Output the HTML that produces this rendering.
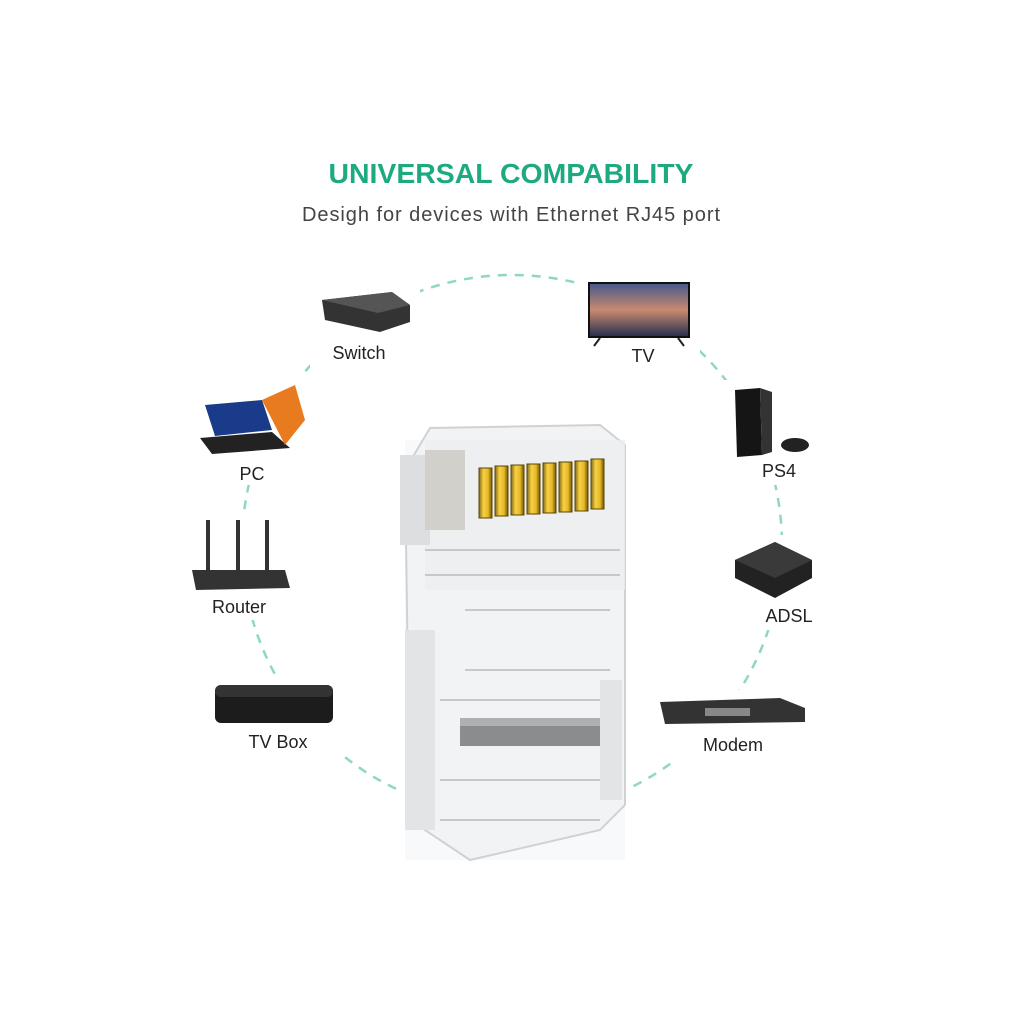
<!DOCTYPE html>
<html><head><meta charset="utf-8"><style>
html,body{margin:0;padding:0;background:#fff;}
svg{display:block}
text{font-family:"Liberation Sans",sans-serif}
</style></head><body>
<svg width="1024" height="1024" viewBox="0 0 1024 1024">
<defs>
<linearGradient id="gold" x1="0" x2="1"><stop offset="0" stop-color="#8a6a10"/><stop offset="0.35" stop-color="#f4d24a"/><stop offset="0.7" stop-color="#e8b820"/><stop offset="1" stop-color="#6b5008"/></linearGradient>
<linearGradient id="tvs" x1="0" y1="0" x2="0" y2="1"><stop offset="0" stop-color="#4a5a8a"/><stop offset="0.5" stop-color="#c88a70"/><stop offset="1" stop-color="#2a3050"/></linearGradient>
</defs>
<text x="511" y="183" text-anchor="middle" font-size="28" font-weight="bold" fill="#1eaa80" textLength="365" lengthAdjust="spacingAndGlyphs">UNIVERSAL COMPABILITY</text>
<text x="511" y="221" text-anchor="middle" font-size="20" fill="#444" textLength="418" lengthAdjust="spacing">Desigh for devices with Ethernet RJ45 port</text>
<circle cx="512" cy="545" r="270" fill="none" stroke="#8fd8bf" stroke-width="2.5" stroke-dasharray="9 8"/>
<rect x="310" y="280" width="110" height="90" fill="#fff"/>
<rect x="580" y="275" width="120" height="95" fill="#fff"/>
<rect x="190" y="375" width="125" height="110" fill="#fff"/>
<rect x="720" y="380" width="100" height="105" fill="#fff"/>
<rect x="180" y="515" width="110" height="105" fill="#fff"/>
<rect x="725" y="535" width="100" height="95" fill="#fff"/>
<rect x="205" y="680" width="140" height="75" fill="#fff"/>
<rect x="650" y="690" width="160" height="70" fill="#fff"/>
<rect x="400" y="780" width="230" height="90" fill="#fff"/>
<path d="M322 300 L392 292 L410 305 L410 322 L380 332 L325 320 Z" fill="#333"/>
<path d="M322 300 L392 292 L410 305 L378 313 Z" fill="#555"/>
<text x="359" y="359" text-anchor="middle" font-size="18" fill="#222">Switch</text>
<rect x="588" y="282" width="102" height="56" fill="#111"/>
<rect x="590" y="284" width="98" height="52" fill="url(#tvs)"/>
<path d="M594 346 L600 338 M684 346 L678 338" stroke="#222" stroke-width="2"/>
<text x="643" y="362" text-anchor="middle" font-size="18" fill="#222">TV</text>
<path d="M205 405 L262 400 L272 430 L215 436 Z" fill="#1a3a8a"/>
<path d="M200 438 L272 432 L290 448 L212 454 Z" fill="#222"/>
<path d="M262 400 L295 385 L305 420 L285 445 Z" fill="#e87a20"/>
<text x="252" y="480" text-anchor="middle" font-size="18" fill="#222">PC</text>
<path d="M735 390 L760 388 L762 455 L737 457 Z" fill="#151515"/>
<path d="M760 388 L772 392 L772 452 L762 455 Z" fill="#333"/>
<ellipse cx="795" cy="445" rx="14" ry="7" fill="#222"/>
<text x="779" y="477" text-anchor="middle" font-size="18" fill="#222">PS4</text>
<rect x="206" y="520" width="4" height="50" fill="#333"/>
<rect x="236" y="520" width="4" height="50" fill="#333"/>
<rect x="265" y="520" width="4" height="50" fill="#333"/>
<path d="M192 570 L285 570 L290 588 L196 590 Z" fill="#333"/>
<text x="239" y="613" text-anchor="middle" font-size="18" fill="#222">Router</text>
<path d="M735 560 L775 542 L812 560 L812 578 L775 598 L735 578 Z" fill="#222"/>
<path d="M735 560 L775 542 L812 560 L775 578 Z" fill="#3a3a3a"/>
<text x="789" y="622" text-anchor="middle" font-size="18" fill="#222">ADSL</text>
<rect x="215" y="685" width="118" height="38" rx="6" fill="#1c1c1c"/>
<rect x="215" y="685" width="118" height="12" rx="6" fill="#333"/>
<text x="278" y="748" text-anchor="middle" font-size="18" fill="#222">TV Box</text>
<path d="M660 702 L780 698 L805 708 L805 722 L665 724 Z" fill="#333"/>
<rect x="705" y="708" width="45" height="8" fill="#888"/>
<text x="733" y="751" text-anchor="middle" font-size="18" fill="#222">Modem</text>
<g>
<rect x="405" y="440" width="220" height="420" fill="#f8f9fa"/>
<path d="M430 428 L600 425 L625 445 L625 805 L600 830 L470 860 L410 820 L405 470 Z" fill="#f2f3f4" stroke="#cfd2d5" stroke-width="2"/>
<rect x="425" y="440" width="200" height="150" fill="#eceeef" opacity="0.8"/>
<rect x="400" y="455" width="30" height="90" fill="#dcdedf"/>
<rect x="425" y="450" width="40" height="80" fill="#d2d0ca"/>
<g stroke="#c6c9cc" stroke-width="2">
<line x1="425" y1="550" x2="620" y2="550"/><line x1="425" y1="575" x2="620" y2="575"/>
<line x1="465" y1="610" x2="610" y2="610"/><line x1="465" y1="670" x2="610" y2="670"/>
<line x1="440" y1="700" x2="620" y2="700"/><line x1="440" y1="780" x2="620" y2="780"/>
<line x1="440" y1="820" x2="600" y2="820"/>
</g>
<rect x="460" y="718" width="150" height="28" fill="#8a8c8e"/>
<rect x="460" y="718" width="150" height="8" fill="#b0b0b0"/>
<rect x="405" y="630" width="30" height="200" fill="#e2e4e5"/>
<rect x="600" y="680" width="22" height="120" fill="#e2e4e5"/>
<g fill="url(#gold)" stroke="#5a4508" stroke-width="1">
<rect x="479" y="468" width="13" height="50"/>
<rect x="495" y="466" width="13" height="50"/>
<rect x="511" y="465" width="13" height="50"/>
<rect x="527" y="464" width="13" height="50"/>
<rect x="543" y="463" width="13" height="50"/>
<rect x="559" y="462" width="13" height="50"/>
<rect x="575" y="461" width="13" height="50"/>
<rect x="591" y="459" width="13" height="50"/>
</g>
</g>
</svg>
</body></html>
